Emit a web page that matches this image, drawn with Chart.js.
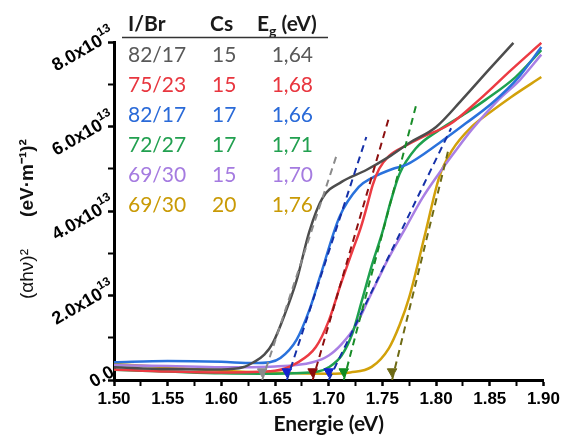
<!DOCTYPE html>
<html>
<head>
<meta charset="utf-8">
<script src="https://cdn.jsdelivr.net/npm/chart.js@4/dist/chart.umd.min.js"></script>
<style>
  html, body { margin: 0; padding: 0; background: #fff; }
</style>
</head>
<body>
<canvas id="tauc" width="563" height="437"></canvas>
<script>
// (alpha h nu)^2 values are in units of 1e13 (eV/m)^2
// sample order: gray, red, blue, green, purple, gold
const ratioIBr = ['82/17', '75/23', '82/17', '72/27', '69/30', '69/30'];
const cesium = ['15', '15', '17', '17', '15', '20'];
const gapText = ['1,64', '1,68', '1,66', '1,71', '1,70', '1,76'];

const grayE = [1.50, 1.55, 1.60, 1.62, 1.63, 1.64, 1.648, 1.659, 1.670, 1.682, 1.694, 1.712, 1.735, 1.756, 1.775, 1.800, 1.824, 1.849, 1.872];
const grayY = [0.30, 0.26, 0.25, 0.30, 0.42, 0.60, 0.88, 1.55, 2.35, 3.52, 4.30, 4.69, 4.97, 5.28, 5.61, 5.99, 6.63, 7.34, 7.98];

const redE = [1.50, 1.55, 1.60, 1.65, 1.670, 1.688, 1.700, 1.711, 1.722, 1.730, 1.736, 1.741, 1.747, 1.756, 1.772, 1.787, 1.812, 1.840, 1.870, 1.898];
const redY = [0.25, 0.20, 0.18, 0.22, 0.40, 0.78, 1.40, 2.25, 3.05, 3.62, 4.15, 4.62, 5.00, 5.30, 5.55, 5.75, 6.04, 6.63, 7.34, 7.98];

const blueE = [1.50, 1.55, 1.60, 1.63, 1.645, 1.655, 1.670, 1.682, 1.692, 1.710, 1.728, 1.740, 1.760, 1.772, 1.803, 1.828, 1.852, 1.877, 1.898];
const blueY = [0.42, 0.45, 0.43, 0.40, 0.42, 0.52, 0.95, 1.66, 2.45, 3.86, 4.57, 4.78, 5.00, 5.09, 5.61, 6.08, 6.55, 7.17, 7.88];

const greenE = [1.50, 1.55, 1.60, 1.65, 1.69, 1.700, 1.712, 1.722, 1.731, 1.740, 1.750, 1.758, 1.766, 1.781, 1.803, 1.828, 1.846, 1.874, 1.898];
const greenY = [0.24, 0.20, 0.16, 0.15, 0.20, 0.30, 0.58, 1.10, 1.89, 2.70, 3.50, 4.25, 4.88, 5.48, 5.92, 6.32, 6.63, 7.17, 7.81];

const purpleE = [1.50, 1.55, 1.60, 1.65, 1.685, 1.700, 1.712, 1.725, 1.738, 1.755, 1.772, 1.787, 1.803, 1.818, 1.833, 1.858, 1.878, 1.898];
const purpleY = [0.35, 0.33, 0.30, 0.32, 0.42, 0.58, 0.85, 1.28, 1.96, 2.85, 3.62, 4.30, 4.90, 5.42, 5.92, 6.63, 7.10, 7.70];

const goldE = [1.50, 1.55, 1.60, 1.65, 1.70, 1.72, 1.740, 1.756, 1.766, 1.775, 1.790, 1.803, 1.815, 1.833, 1.850, 1.870, 1.898];
const goldY = [0.38, 0.30, 0.22, 0.17, 0.15, 0.18, 0.31, 0.75, 1.30, 1.96, 3.48, 4.81, 5.44, 5.99, 6.33, 6.70, 7.17];

// linear fits drawn as dashed lines, from the gap on the axis up to the top end
const tangentFromE = [1.638, 1.685, 1.661, 1.714, 1.700, 1.759];
const tangentToE = [1.708, 1.756, 1.735, 1.782, 1.814, 1.811];
const tangentToY = [5.37, 6.20, 5.75, 6.56, 5.96, 5.40];
const arrowY = [0.20, 0.20, 0.20, 0.20, 0.20, 0.20];

const curveColors = ['#4d4d4d', '#ec3b43', '#2a72dc', '#1ea14f', '#a97fe4', '#d2a10a'];
const textColors = ['#595959', '#e8363f', '#2a6ad8', '#22a050', '#a57be0', '#c99a06'];
const dashColors = ['#8a8a8a', '#8c1010', '#1530a8', '#188c28', '#1530a8', '#6e6a14'];
const arrowColors = ['#8a8a8a', '#8c0c0c', '#1224d0', '#0f8c20', '#1224d0', '#6e6a14'];

const curvesE = [grayE, redE, blueE, greenE, purpleE, goldE];
const curvesY = [grayY, redY, blueY, greenY, purpleY, goldY];

function toPoints(xs, ys) {
    return xs.map((x, i) => ({ x: x, y: ys[i] }));
}

const datasets = [];

// arrows and dashed fits first so they sit on top
datasets.push({
    type: 'scatter',
    data: toPoints(tangentFromE, arrowY),
    pointStyle: 'triangle',
    rotation: 180,
    pointRadius: 5.5,
    pointBackgroundColor: arrowColors,
    pointBorderColor: arrowColors,
    pointBorderWidth: 1,
    showLine: false
});

tangentFromE.forEach((e, i) => {
    datasets.push({
        data: toPoints([e, tangentToE[i]], [0, tangentToY[i]]),
        borderColor: dashColors[i],
        borderWidth: 2,
        borderDash: [7, 5],
        pointRadius: 0,
        fill: false
    });
});

curvesE.forEach((xs, i) => {
    datasets.push({
        data: toPoints(xs, curvesY[i]),
        borderColor: curveColors[i],
        borderWidth: 2.5,
        cubicInterpolationMode: 'monotone',
        pointRadius: 0,
        fill: false
    });
});

const tableFont = "Lato, 'Open Sans', sans-serif";
const axisFont = "'Liberation Sans', Arial, sans-serif";

const compositionTable = {
    id: 'compositionTable',
    afterDraw(chart) {
        const ctx = chart.ctx;
        ctx.save();
        ctx.textBaseline = 'alphabetic';
        ctx.fillStyle = '#1a1a1a';
        ctx.font = `bold 21px ${tableFont}`;
        ctx.textAlign = 'left';
        ctx.fillText('I/Br', 128, 31);
        ctx.fillText('Cs', 210, 31);
        ctx.fillText('E', 257, 31);
        const eW = ctx.measureText('E').width;
        ctx.font = `bold 14px ${tableFont}`;
        ctx.fillText('g', 257 + eW, 36);
        const gW = ctx.measureText('g').width;
        ctx.font = `bold 21px ${tableFont}`;
        ctx.fillText(' (eV)', 257 + eW + gW, 31);

        ctx.strokeStyle = '#333';
        ctx.lineWidth = 1.5;
        ctx.beginPath();
        ctx.moveTo(122, 37.5);
        ctx.lineTo(328, 37.5);
        ctx.stroke();

        ctx.font = `21px ${tableFont}`;
        ratioIBr.forEach((r, i) => {
            const y = 62 + i * 30;
            ctx.fillStyle = textColors[i];
            ctx.textAlign = 'left';
            ctx.fillText(r, 128, y);
            ctx.fillText(cesium[i], 212, y);
            ctx.textAlign = 'right';
            ctx.fillText(gapText[i], 313, y);
        });
        ctx.restore();
    }
};

// y tick labels with a real superscript exponent, placed from the y scale
const yTickLabels = {
    id: 'yTickLabels',
    afterDraw(chart) {
        const scale = chart.scales.y;
        const ctx = chart.ctx;
        scale.ticks.forEach((t) => {
            if (t.value % 2 !== 0) return;
            const py = scale.getPixelForValue(t.value);
            const main = t.value === 0 ? '0.0' : t.value.toFixed(1) + 'x10';
            const exp = t.value === 0 ? '' : '13';
            ctx.save();
            ctx.fillStyle = '#000';
            ctx.translate(113, py - 9);
            ctx.rotate(-Math.PI / 6);
            ctx.textBaseline = 'middle';
            ctx.font = `bold 12px ${axisFont}`;
            const wExp = ctx.measureText(exp).width;
            ctx.textAlign = 'left';
            if (exp) ctx.fillText(exp, -wExp, -7);
            ctx.font = `bold 18px ${axisFont}`;
            ctx.textAlign = 'right';
            ctx.fillText(main, -wExp, 0);
            ctx.restore();
        });
    }
};

const yAxisTitle = {
    id: 'yAxisTitle',
    afterDraw(chart) {
        const ctx = chart.ctx;
        ctx.save();
        ctx.fillStyle = '#111';
        ctx.textAlign = 'center';
        ctx.textBaseline = 'middle';
        ctx.translate(28, 274);
        ctx.rotate(-Math.PI / 2);
        ctx.font = `19px ${axisFont}`;
        ctx.fillText('(αhν)²', 0, 0);
        ctx.restore();

        ctx.save();
        ctx.fillStyle = '#111';
        ctx.textAlign = 'center';
        ctx.textBaseline = 'middle';
        ctx.translate(28, 178);
        ctx.rotate(-Math.PI / 2);
        ctx.font = `bold 19px ${axisFont}`;
        ctx.fillText('(eV·m⁻¹)²', 0, 0);
        ctx.restore();
    }
};

const tickFont = { family: axisFont, size: 17, weight: 'bold' };

new Chart(document.getElementById('tauc'), {
    type: 'line',
    data: { datasets: datasets },
    options: {
        responsive: false,
        animation: false,
        layout: { padding: { top: 42, right: 18, bottom: 0, left: 0 } },
        plugins: {
            legend: { display: false },
            tooltip: { enabled: false }
        },
        scales: {
            x: {
                type: 'linear',
                min: 1.5,
                max: 1.9,
                afterFit: (scale) => { scale.height = 57; },
                ticks: {
                    stepSize: 0.025,
                    autoSkip: false,
                    maxRotation: 0,
                    padding: 3,
                    color: '#000',
                    font: tickFont,
                    callback: (value, index) => index % 2 === 0 ? value.toFixed(2) : ''
                },
                grid: {
                    display: true,
                    drawOnChartArea: false,
                    drawTicks: true,
                    tickLength: 6,
                    tickColor: '#000',
                    tickWidth: (c) => c.index % 2 === 0 ? 2.5 : 2
                },
                border: { display: true, color: '#000', width: 3 },
                title: {
                    display: true,
                    text: 'Energie (eV)',
                    color: '#111',
                    font: { family: tableFont, size: 21, weight: 'bold' },
                    padding: { top: 0, bottom: 0 }
                }
            },
            y: {
                min: 0,
                max: 8,
                afterFit: (scale) => { scale.width = 114; },
                ticks: {
                    stepSize: 1,
                    autoSkip: false,
                    display: false
                },
                grid: {
                    display: true,
                    drawOnChartArea: false,
                    drawTicks: true,
                    tickLength: 6,
                    tickColor: '#000',
                    tickWidth: (c) => c.index % 2 === 0 ? 2.5 : 2
                },
                border: { display: true, color: '#000', width: 3 }
            }
        }
    },
    plugins: [compositionTable, yTickLabels, yAxisTitle]
});
</script>
</body>
</html>
